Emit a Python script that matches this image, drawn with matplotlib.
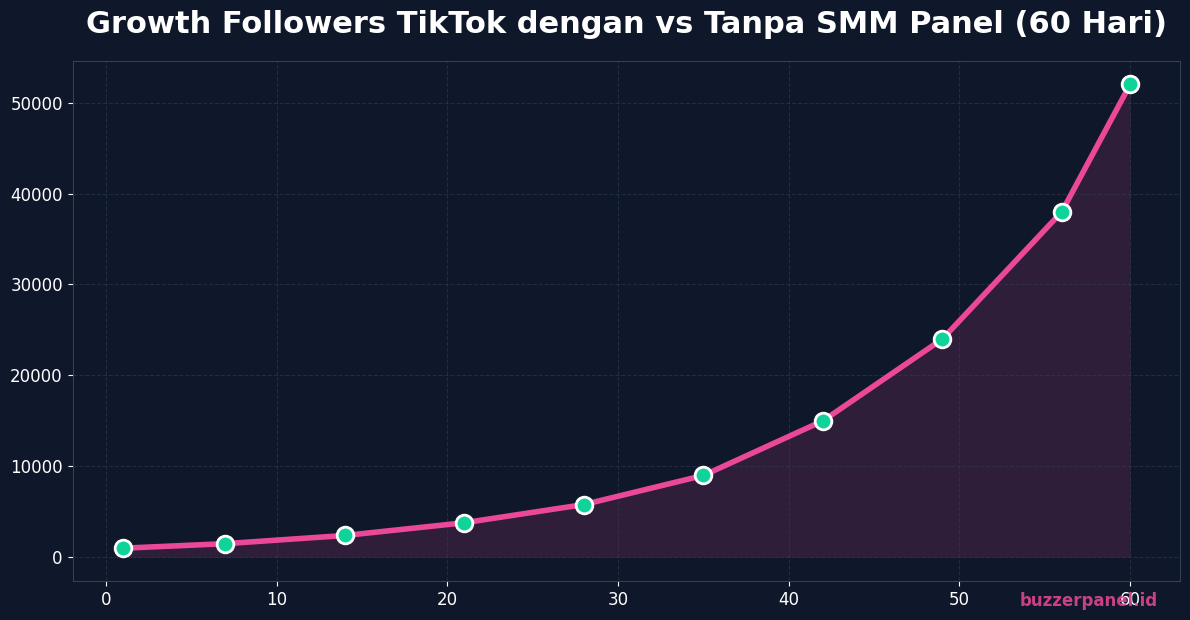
import matplotlib.pyplot as plt

days = [1, 7, 14, 21, 28, 35, 42, 49, 56, 60]
followers = [1000, 1500, 2400, 3800, 5800, 9000, 15000, 24000, 38000, 52000]

bg = '#0f172a'
pink = '#ec4899'
green = '#10d39a'

fig, ax = plt.subplots(figsize=(11.9, 6.2), dpi=100)
fig.patch.set_facecolor(bg)
ax.set_facecolor(bg)

ax.fill_between(days, followers, 0, color=pink, alpha=0.15, linewidth=0)
ax.plot(days, followers, color=pink, linewidth=4, marker='o', markersize=12,
        markerfacecolor=green, markeredgecolor='white', markeredgewidth=2, zorder=3)

ax.set_title('Growth Followers TikTok dengan vs Tanpa SMM Panel (60 Hari)',
             color='white', fontsize=22, fontweight='bold', pad=20)
ax.grid(True, linestyle='--', color='#334155', alpha=0.5, linewidth=0.8)
ax.tick_params(colors='white', labelsize=12)
for s in ax.spines.values():
    s.set_color('#334155')

fig.text(0.973, 0.016, 'buzzerpanel.id', color=pink, alpha=0.85, fontsize=12,
         fontweight='bold', ha='right', va='bottom')

plt.tight_layout()
plt.subplots_adjust(left=0.061, right=0.992, top=0.902, bottom=0.063)
plt.savefig('out.png', facecolor=bg)
